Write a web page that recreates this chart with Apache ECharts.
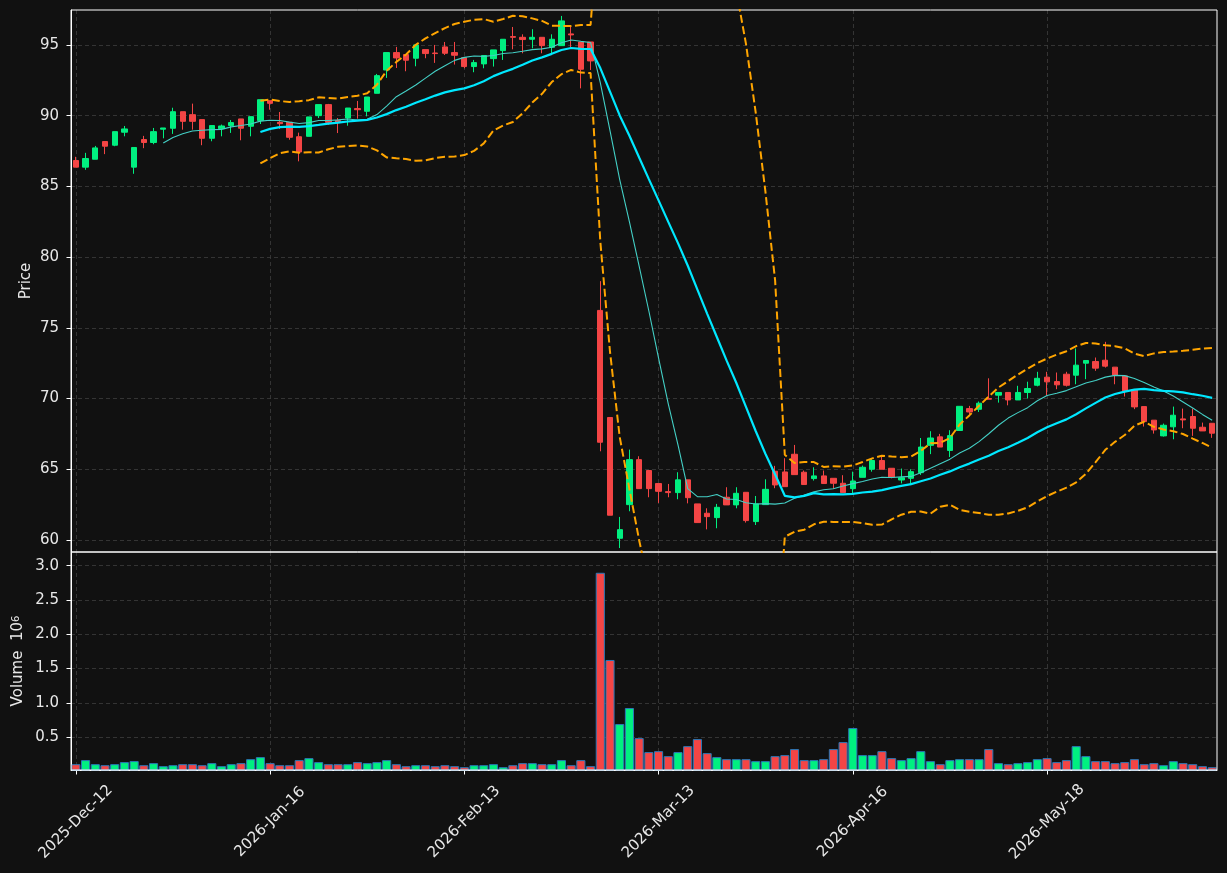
<!DOCTYPE html>
<html>
<head>
<meta charset="utf-8">
<title>Price and volume</title>
<script src="https://cdn.jsdelivr.net/npm/echarts@6.0.0/dist/echarts.min.js"></script>
<style>
  html, body { margin: 0; padding: 0; background: #111111; }
  #chart { width: 1227px; height: 873px; }
</style>
</head>
<body>
<div id="chart"></div>
<script type="text/javascript">
// daily OHLC, one value per trading day
var opens = [
  86.83, 86.36, 86.92, 88.17, 87.91, 88.83, 86.36, 88.31, 88.10, 89.04,
  89.11, 90.28, 90.07, 89.72, 88.40, 89.08, 89.30, 89.77, 89.25, 89.65,
  91.06, 89.53, 89.53, 88.51, 88.54, 90.00, 90.78, 89.65, 89.83, 90.50,
  90.31, 91.58, 93.23, 94.46, 94.32, 94.06, 94.67, 94.43, 94.86, 94.46,
  94.10, 93.47, 93.66, 94.03, 94.60, 95.59, 95.54, 95.40, 95.54, 94.83,
  94.95, 95.78, 95.21, 95.21, 76.23, 68.66, 60.12, 62.50, 65.68, 64.91,
  63.99, 63.42, 63.35, 64.25, 62.55, 61.89, 61.58, 63.02, 62.48, 63.37,
  61.30, 62.50, 64.86, 64.81, 66.06, 64.79, 64.34, 64.53, 64.36, 64.01,
  63.63, 64.43, 65.00, 65.62, 65.07, 64.24, 64.36, 64.76, 66.69, 67.29,
  66.33, 67.74, 69.29, 69.24, 70.00, 70.24, 70.43, 69.90, 70.43, 70.94,
  71.51, 71.20, 71.72, 71.65, 72.50, 72.62, 72.71, 72.22, 71.60, 70.59,
  69.43, 68.47, 67.36, 68.00, 68.56, 68.73, 67.97, 68.25
];
var highs = [
  87.09, 87.37, 87.86, 88.17, 88.87, 89.27, 87.75, 88.57, 89.13, 89.13,
  90.56, 90.28, 90.85, 89.72, 89.30, 89.37, 89.69, 89.77, 89.93, 91.13,
  91.06, 90.26, 89.53, 88.80, 89.91, 90.78, 90.83, 89.83, 90.54, 91.04,
  91.32, 92.95, 94.46, 94.86, 94.32, 95.00, 94.67, 95.00, 95.21, 95.21,
  94.10, 93.94, 94.25, 94.65, 95.40, 96.27, 95.75, 96.11, 95.54, 95.75,
  97.05, 96.30, 95.21, 95.21, 78.30, 68.66, 61.63, 66.39, 65.92, 64.91,
  63.99, 63.96, 64.79, 64.25, 62.55, 62.24, 62.55, 63.73, 63.73, 63.37,
  63.11, 64.29, 65.24, 65.78, 66.72, 64.91, 65.14, 64.91, 64.36, 64.58,
  64.83, 65.26, 65.79, 65.95, 65.07, 65.05, 65.00, 67.21, 67.69, 67.50,
  67.76, 69.45, 69.48, 69.79, 71.43, 70.43, 70.43, 70.90, 71.19, 71.89,
  71.89, 71.84, 71.89, 73.54, 72.69, 72.90, 74.01, 72.22, 71.60, 70.59,
  69.43, 68.47, 68.23, 69.43, 69.29, 69.29, 68.30, 68.25
];
var lows = [
  86.36, 86.17, 86.92, 87.28, 87.84, 88.54, 85.89, 87.70, 87.98, 88.40,
  88.71, 89.01, 89.01, 87.91, 88.19, 88.54, 88.78, 88.26, 88.54, 89.41,
  90.42, 89.06, 88.30, 86.77, 88.54, 89.83, 89.36, 88.77, 89.29, 89.79,
  89.95, 91.58, 92.67, 93.37, 93.14, 93.49, 94.06, 93.73, 94.29, 93.61,
  93.35, 93.07, 93.35, 93.47, 93.94, 94.69, 94.41, 94.76, 94.41, 94.29,
  94.95, 94.83, 91.93, 93.23, 66.27, 61.75, 59.43, 62.03, 63.63, 63.02,
  62.62, 63.02, 62.88, 62.59, 61.23, 60.75, 60.83, 62.48, 62.24, 61.23,
  61.06, 62.50, 63.66, 63.77, 64.62, 63.92, 64.20, 63.99, 63.61, 63.35,
  63.18, 64.43, 64.83, 65.00, 64.36, 64.00, 63.88, 64.60, 66.07, 66.57,
  65.86, 67.74, 68.88, 69.05, 69.95, 69.71, 69.52, 69.90, 70.00, 70.86,
  70.19, 70.66, 70.85, 71.01, 71.37, 71.96, 72.19, 71.01, 70.14, 69.25,
  68.02, 67.52, 67.31, 67.12, 67.90, 67.36, 67.71, 67.22
];
var closes = [
  86.36, 86.97, 87.72, 87.84, 88.87, 89.06, 87.75, 88.10, 88.87, 89.13,
  90.28, 89.60, 89.60, 88.40, 89.30, 89.27, 89.51, 89.11, 89.93, 91.13,
  90.87, 89.43, 88.47, 87.43, 89.91, 90.78, 89.53, 89.55, 90.54, 90.42,
  91.32, 92.83, 94.46, 94.08, 93.92, 95.00, 94.39, 94.39, 94.41, 94.27,
  93.47, 93.75, 94.25, 94.65, 95.40, 95.54, 95.38, 95.54, 94.95, 95.40,
  96.70, 95.71, 93.28, 93.87, 66.91, 61.75, 60.73, 65.68, 63.63, 63.63,
  63.44, 63.35, 64.25, 62.99, 61.23, 61.65, 62.31, 62.48, 63.30, 61.37,
  62.55, 63.58, 63.89, 63.77, 64.62, 63.92, 64.53, 63.99, 64.01, 63.35,
  64.17, 65.14, 65.62, 65.00, 64.43, 64.40, 64.83, 66.57, 67.21, 66.57,
  67.38, 69.45, 69.05, 69.67, 69.95, 70.43, 69.90, 70.43, 70.71, 71.43,
  71.18, 70.97, 70.94, 72.36, 72.69, 72.15, 72.29, 71.65, 70.54, 69.41,
  68.37, 67.78, 68.11, 68.82, 68.49, 67.90, 67.71, 67.55
];
// volume in millions
var volumes = [
  0.105, 0.164, 0.105, 0.090, 0.105, 0.135, 0.150, 0.090, 0.120, 0.076,
  0.090, 0.105, 0.105, 0.090, 0.120, 0.076, 0.105, 0.120, 0.178, 0.208,
  0.120, 0.090, 0.090, 0.164, 0.193, 0.135, 0.105, 0.105, 0.105, 0.135,
  0.120, 0.135, 0.164, 0.105, 0.076, 0.090, 0.090, 0.076, 0.090, 0.076,
  0.061, 0.090, 0.090, 0.105, 0.061, 0.090, 0.120, 0.120, 0.105, 0.105,
  0.164, 0.090, 0.164, 0.076, 2.897, 1.625, 0.690, 0.924, 0.485, 0.281,
  0.295, 0.222, 0.281, 0.368, 0.471, 0.266, 0.208, 0.178, 0.178, 0.178,
  0.149, 0.149, 0.222, 0.237, 0.325, 0.164, 0.164, 0.178, 0.325, 0.427,
  0.632, 0.237, 0.237, 0.295, 0.193, 0.164, 0.193, 0.295, 0.149, 0.105,
  0.164, 0.178, 0.178, 0.178, 0.325, 0.120, 0.105, 0.120, 0.135, 0.178,
  0.193, 0.135, 0.164, 0.368, 0.222, 0.149, 0.149, 0.120, 0.135, 0.178,
  0.105, 0.120, 0.090, 0.149, 0.120, 0.105, 0.076, 0.061
];
var tickIndex = [0, 20, 40, 60, 80, 100];
var tickLabels = ['2025-Dec-12', '2026-Jan-16', '2026-Feb-13', '2026-Mar-13', '2026-Apr-16', '2026-May-18'];

var days = opens.map(function (v, i) { return String(i); });

// same indicators the original plot carries: 10/20 day averages and 20 day bands (2 sd)
function movingAverage(src, n) {
  return src.map(function (v, i) {
    if (i < n - 1) return '-';
    var s = 0;
    for (var j = i - n + 1; j <= i; j++) s += src[j];
    return +(s / n).toFixed(3);
  });
}
function band(src, n, k) {
  return src.map(function (v, i) {
    if (i < n - 1) return '-';
    var s = 0, q = 0;
    for (var j = i - n + 1; j <= i; j++) s += src[j];
    var m = s / n;
    for (var j2 = i - n + 1; j2 <= i; j2++) q += (src[j2] - m) * (src[j2] - m);
    return +(m + k * Math.sqrt(q / n)).toFixed(3);
  });
}

var up = '#00f080', down = '#f44545';
var txt = '#e8e8e8';
var fs = 15;
var showTick = function (idx) { return tickIndex.indexOf(idx) >= 0; };
var splitStyle = { color: '#3e3e3e', type: [4, 3], width: 0.8 };

var candles = opens.map(function (o, i) { return [o, closes[i], lows[i], highs[i]]; });
var volBars = volumes.map(function (v, i) {
  return { value: v, itemStyle: { color: closes[i] >= opens[i] ? up : down } };
});

var myChart = echarts.init(document.getElementById('chart'));
myChart.setOption({
  backgroundColor: '#111111',
  animation: false,
  textStyle: { fontFamily: 'DejaVu Sans' },
  grid: [
    { left: 71, right: 10, top: 10, height: 542, show: true, borderColor: '#ffffff', borderWidth: 1, z: 3 },
    { left: 71, right: 10, top: 552, height: 218, show: true, borderColor: '#ffffff', borderWidth: 1, z: 3 }
  ],
  xAxis: [
    {
      type: 'category', gridIndex: 0, data: days, boundaryGap: true,
      axisLine: { show: false }, axisTick: { show: false }, axisLabel: { show: false },
      splitLine: { show: true, alignWithLabel: true, interval: showTick, lineStyle: splitStyle }
    },
    {
      type: 'category', gridIndex: 1, data: days, boundaryGap: true,
      axisLine: { show: true, lineStyle: { color: '#ffffff', width: 1 } },
      axisTick: { show: true, alignWithLabel: true, interval: showTick, length: 4.5, lineStyle: { color: '#ffffff' } },
      axisLabel: {
        show: true, interval: showTick, rotate: 45, align: 'center', verticalAlign: 'middle',
        margin: 52, color: txt, fontSize: fs,
        formatter: function (v, i) { return tickLabels[tickIndex.indexOf(i)] || ''; }
      },
      splitLine: { show: true, alignWithLabel: true, interval: showTick, lineStyle: splitStyle }
    }
  ],
  yAxis: [
    {
      type: 'value', gridIndex: 0, min: 59.15, max: 97.47, splitNumber: 8, minInterval: 5, maxInterval: 5,
      name: 'Price', nameLocation: 'middle', nameRotate: 90, nameGap: 37, nameMoveOverlap: false,
      nameTextStyle: { color: txt, fontSize: fs },
      axisLine: { show: true, lineStyle: { color: '#ffffff' } },
      axisTick: { show: true, length: 4.5, lineStyle: { color: '#ffffff' } },
      axisLabel: { color: txt, fontSize: fs, margin: 12, showMinLabel: false, showMaxLabel: false },
      splitLine: { show: true, showMinLine: false, showMaxLine: false, lineStyle: splitStyle }
    },
    {
      type: 'value', gridIndex: 1, min: 0.02, max: 3.2, splitNumber: 6, minInterval: 0.5, maxInterval: 0.5,
      name: 'Volume  10{sup|6}', nameLocation: 'middle', nameRotate: 90, nameGap: 45, nameMoveOverlap: false,
      nameTextStyle: { color: txt, fontSize: fs, rich: { sup: { color: txt, fontSize: 10, verticalAlign: 'top', padding: [0, 0, 4, 0] } } },
      axisLine: { show: true, lineStyle: { color: '#ffffff' } },
      axisTick: { show: true, length: 4.5, lineStyle: { color: '#ffffff' } },
      axisLabel: {
        color: txt, fontSize: fs, margin: 12, showMinLabel: false, showMaxLabel: false,
        formatter: function (v) { return v.toFixed(1); }
      },
      splitLine: { show: true, showMinLine: false, showMaxLine: false, lineStyle: splitStyle }
    }
  ],
  series: [
    {
      type: 'candlestick', xAxisIndex: 0, yAxisIndex: 0, data: candles, barWidth: '60%',
      itemStyle: { color: up, color0: down, borderColor: up, borderColor0: down, borderWidth: 1 }
    },
    {
      name: 'MA10', type: 'line', xAxisIndex: 0, yAxisIndex: 0, data: movingAverage(closes, 10),
      showSymbol: false, symbol: 'none', lineStyle: { color: '#44d0c6', width: 1.1 }
    },
    {
      name: 'MA20', type: 'line', xAxisIndex: 0, yAxisIndex: 0, data: movingAverage(closes, 20),
      showSymbol: false, symbol: 'none', lineStyle: { color: '#00e8ff', width: 2.2 }
    },
    {
      name: 'Upper', type: 'line', xAxisIndex: 0, yAxisIndex: 0, data: band(closes, 20, 2),
      showSymbol: false, symbol: 'none', lineStyle: { color: '#ffa500', width: 2, type: [8, 3.5] }
    },
    {
      name: 'Lower', type: 'line', xAxisIndex: 0, yAxisIndex: 0, data: band(closes, 20, -2),
      showSymbol: false, symbol: 'none', lineStyle: { color: '#ffa500', width: 2, type: [8, 3.5] }
    },
    {
      name: 'Volume', type: 'bar', xAxisIndex: 1, yAxisIndex: 1, data: volBars, barCategoryGap: '6%',
      itemStyle: { borderColor: '#2a78b8', borderWidth: 1 }
    }
  ]
});
</script>
</body>
</html>
